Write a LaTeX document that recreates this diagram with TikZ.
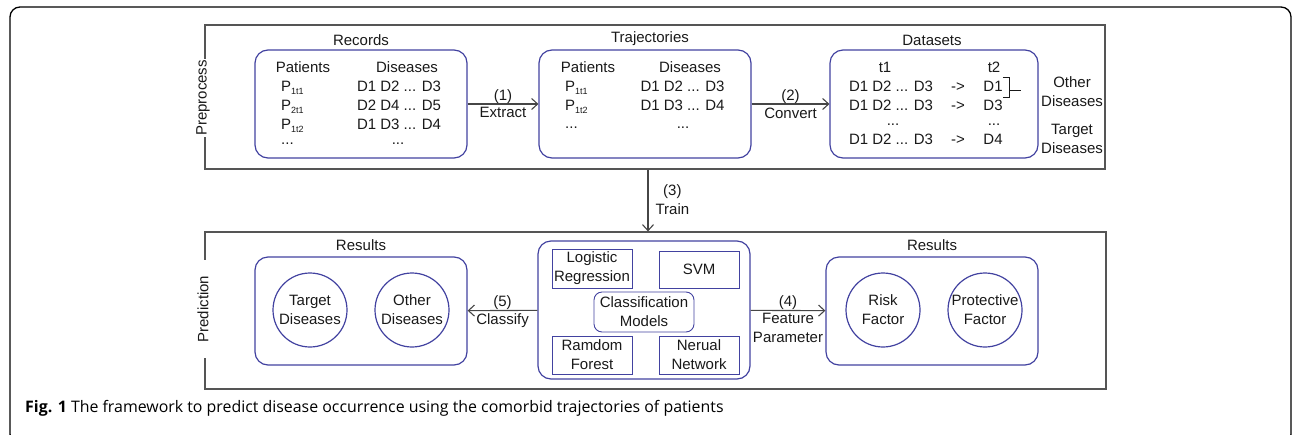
\documentclass[tikz,border=0pt]{standalone}
\usepackage{fontspec}
\setmainfont{Liberation Sans}
\newfontfamily\capfont{Open Sans}
\usetikzlibrary{arrows.meta}
\definecolor{bblue}{RGB}{66,66,160}
\definecolor{fgrey}{RGB}{85,85,85}
\definecolor{agrey}{RGB}{70,70,70}
\definecolor{txt}{RGB}{25,25,25}
\newcommand{\psb}[1]{P\raisebox{-3pt}{\fontsize{9}{9}\selectfont #1}}
\begin{document}
\begin{tikzpicture}[x=1pt,y=-1pt,
  font=\fontsize{15}{19}\selectfont, text=txt,
  frame/.style={draw=fgrey, line width=1.2pt, inner sep=0pt},
  blbox/.style={draw=bblue, line width=1.2pt, rounded corners=13pt, inner sep=0pt},
  sqbox/.style={draw=bblue, line width=0.9pt, inner sep=0pt, align=center},
  circ/.style={draw=bblue, line width=1.2pt, circle, minimum size=74pt, inner sep=0pt, align=center},
  lbl/.style={inner sep=0pt},
  arr/.style={draw=agrey, line width=1.1pt, -{Straight Barb[length=6pt,width=11pt]}},
  brk/.style={draw=txt, line width=0.9pt},
  sidelbl/.style={rotate=90, fill=white, inner ysep=1pt}
]
\useasboundingbox (0,0) rectangle (1292,434);
\begin{scope}
\clip (0,0) rectangle (1292,434);
\draw[black, line width=1.3pt, rounded corners=10pt] (10,7) rectangle (1291,444);
\end{scope}

% frames
\node[frame, minimum width=900pt, minimum height=144pt] (prebox) at (655,97) {};
\node[frame, minimum width=901pt, minimum height=157pt] (predbox) at (655.5,310.5) {};
\node[sidelbl, inner xsep=1pt] (prelbl) at (203,98) {Preprocess};
\node[sidelbl, inner xsep=16pt] (predlbl) at (203,309) {Prediction};

% top boxes
\node[blbox, minimum width=212pt, minimum height=108pt] (recbox) at (361,104) {};
\node[blbox, minimum width=212pt, minimum height=108pt] (trajbox) at (645,104) {};
\node[blbox, minimum width=208pt, minimum height=108pt] (databox) at (934,104) {};
\node[lbl] (reclbl) at (361,40) {Records};
\node[lbl] (trajlbl) at (650,39) {Trajectories};
\node[lbl] (datalbl) at (932,40) {Datasets};

% records content
\node[lbl, anchor=base] (r0a) at (303,72.5) {Patients};
\node[lbl, anchor=base] (r0b) at (407,72.5) {Diseases};
\node[lbl, anchor=base west] (r1a) at (281,91.5) {\psb{1t1}};
\node[lbl, anchor=base west] (r2a) at (281,110.5) {\psb{2t1}};
\node[lbl, anchor=base west] (r3a) at (281,129.5) {\psb{1t2}};
\node[lbl, anchor=base west] (r4a) at (281,144) {...};
\node[lbl, anchor=base] (r1b) at (399,91.5) {D1 D2 ... D3};
\node[lbl, anchor=base] (r2b) at (399,110.5) {D2 D4 ... D5};
\node[lbl, anchor=base] (r3b) at (399,129.5) {D1 D3 ... D4};
\node[lbl, anchor=base] (r4b) at (398,144) {...};

% trajectories content
\node[lbl, anchor=base] (t0a) at (588,72.5) {Patients};
\node[lbl, anchor=base] (t0b) at (690,72.5) {Diseases};
\node[lbl, anchor=base west] (t1a) at (565,91.5) {\psb{1t1}};
\node[lbl, anchor=base west] (t2a) at (565,110.5) {\psb{1t2}};
\node[lbl, anchor=base west] (t3a) at (565,128) {...};
\node[lbl, anchor=base] (t1b) at (682.5,91.5) {D1 D2 ... D3};
\node[lbl, anchor=base] (t2b) at (682.5,110.5) {D1 D3 ... D4};
\node[lbl, anchor=base] (t3b) at (683,128) {...};

% datasets content
\node[lbl, anchor=base] (d0a) at (885,72.5) {t1};
\node[lbl, anchor=base] (d0c) at (994,72.5) {t2};
\node[lbl, anchor=base] (d1a) at (891,91.5) {D1 D2 ... D3};
\node[lbl, anchor=base] (d2a) at (891,110) {D1 D2 ... D3};
\node[lbl, anchor=base] (d3a) at (893,125) {...};
\node[lbl, anchor=base] (d4a) at (891,144.5) {D1 D2 ... D3};
\node[lbl, anchor=base] (d1b) at (958,91.5) {->};
\node[lbl, anchor=base] (d2b) at (958,110) {->};
\node[lbl, anchor=base] (d4b) at (958,144.5) {->};
\node[lbl, anchor=base] (d1c) at (993,91.5) {D1};
\node[lbl, anchor=base] (d2c) at (993,110) {D3};
\node[lbl, anchor=base] (d3c) at (994,125) {...};
\node[lbl, anchor=base] (d4c) at (993,144.5) {D4};
\coordinate (bt) at (1009,77);
\coordinate (bb) at (1009,97);
\coordinate (bm) at (1009,90);
\coordinate (btick) at (1021,90);
\draw[brk] (d1c.east |- bt) -- (bt) -- (bb) -- (d2c.east |- bb);
\draw[brk] (bm) -- (btick);
\node[lbl, align=center] (othd) at (1072,92) {Other\\Diseases};
\node[lbl, align=center] (tard) at (1072,139) {Target\\Diseases};

% top arrows
\draw[arr] (recbox) -- (trajbox)
  node[midway, above, inner sep=0pt] (l1a) {(1)}
  node[midway, below=3pt, inner sep=0pt] (l1b) {Extract};
\draw[arr] (trajbox) -- (databox)
  node[midway, above, inner sep=0pt] (l2a) {(2)}
  node[midway, below=3pt, inner sep=0pt] (l2b) {Convert};

% bottom boxes
\node[blbox, minimum width=212pt, minimum height=108pt] (resL) at (361,311) {};
\node[blbox, minimum width=212pt, minimum height=138pt] (modbox) at (644,310) {};
\node[blbox, minimum width=212pt, minimum height=108pt] (resR) at (932,311) {};
\node[lbl] (resLl) at (361,245) {Results};
\node[lbl] (resRl) at (932,245) {Results};

\node[circ] (td) at (310,310) {Target\\Diseases};
\node[circ] (od) at (412,310) {Other\\Diseases};
\node[circ] (rf) at (883,310) {Risk\\Factor};
\node[circ] (pf) at (985,310) {Protective\\Factor};

\node[sqbox, minimum width=80pt, minimum height=39pt] (lr) at (592,268.5) {Logistic\\Regression};
\node[sqbox, minimum width=80pt, minimum height=37pt] (svm) at (699,269.5) {SVM};
\node[sqbox, rounded corners=8pt, minimum width=100pt, minimum height=40pt] (cm) at (644,312) {Classification\\Models};
\node[sqbox, minimum width=80pt, minimum height=38pt] (rdf) at (592,355) {Ramdom\\Forest};
\node[sqbox, minimum width=80pt, minimum height=38pt] (nn) at (699,355) {Nerual\\Network};

% arrow 3
\draw[arr] ([xshift=4pt]prebox.south -| modbox.north) -- ([xshift=4pt]predbox.north -| modbox.north)
  node[midway, right=7pt, inner sep=0pt, align=center, yshift=1pt] (l3) {(3)\\Train};

% bottom arrows
\draw[arr] (modbox) -- (resL)
  node[midway, above, inner sep=0pt] (l5a) {(5)}
  node[midway, below=3pt, inner sep=0pt] (l5b) {Classify};
\draw[arr] (modbox) -- (resR)
  node[midway, above, inner sep=0pt] (l4a) {(4)}
  node[midway, below=2pt, inner sep=0pt, align=center] (l4b) {Feature\\Parameter};

% caption
\node[anchor=base west, inner sep=0pt, text=black, font=\capfont\fontsize{15.9}{18}\selectfont] (cap) at (25,412.5)
  {\textbf{Fig. 1} The framework to predict disease occurrence using the comorbid trajectories of patients};
\end{tikzpicture}
\end{document}
